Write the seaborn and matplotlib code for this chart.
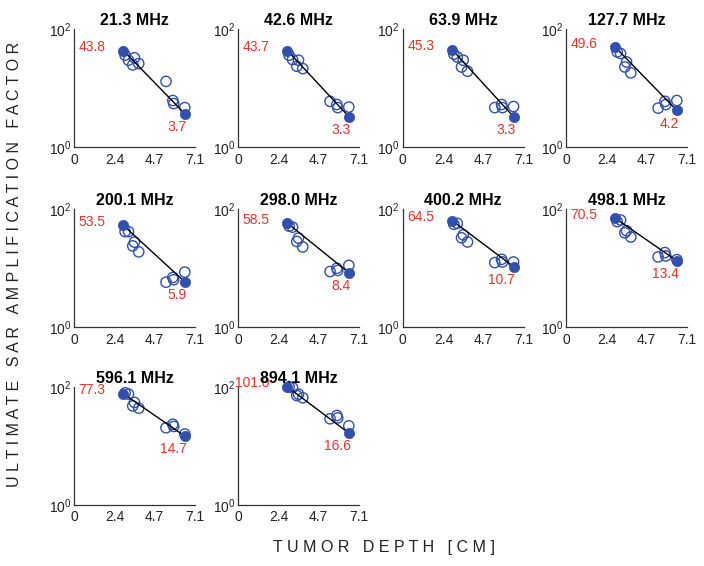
import matplotlib
matplotlib.use("Agg")
import matplotlib.pyplot as plt
import seaborn as sns
import pandas as pd

sns.set_theme(style="white")
plt.rcParams['font.family'] = ['Liberation Sans', 'DejaVu Sans']
plt.rcParams['mathtext.default'] = 'regular'

# data
freq_labels = ["21.3 MHz", "42.6 MHz", "63.9 MHz", "127.7 MHz", "200.1 MHz",
               "298.0 MHz", "400.2 MHz", "498.1 MHz", "596.1 MHz", "894.1 MHz"]
depth_min = 2.9
depth_max = 6.5
amp_min = [43.8, 43.7, 45.3, 49.6, 53.5, 58.5, 64.5, 70.5, 77.3, 101.0]
amp_max = [3.7, 3.3, 3.3, 4.2, 5.9, 8.4, 10.7, 13.4, 14.7, 16.6]
depth_open = [3.0, 3.2, 3.55, 3.45, 3.8, 5.4, 5.8, 5.85, 6.5]
amp_open = [
    [36.5, 30, 33, 25, 26.3, 13.1, 6.2, 5.5, 4.7],
    [36.5, 30.8, 30, 23.7, 21.6, 6.0, 5.3, 4.7, 4.8],
    [38, 34, 30, 23, 19.5, 4.7, 5.3, 4.7, 4.9],
    [41.5, 39, 28, 23, 18.3, 4.6, 6.0, 5.3, 6.2],
    [42, 42, 27.8, 24, 19, 5.8, 7.0, 6.4, 8.6],
    [52, 50, 32.6, 28.5, 23, 8.8, 10, 9.2, 11.2],
    [56, 58, 37, 33, 28, 12.5, 14.2, 12.8, 12.8],
    [62, 66, 43.5, 40, 34, 15.6, 18.5, 16.2, 14],
    [80, 76, 55, 48, 44, 20.4, 23.4, 21.5, 16],
    [101, 98, 76, 72, 66, 29, 33, 30, 22],
]
x_ticks = [0, 2.4, 4.7, 7.1]
x_ticklabels = ["0", "2.4", "4.7", "7.1"]

blue = "#3150ad"
red = "#e8332c"


def spaced(text):
    # letter-spaced caps like the original figure
    return "   ".join(" ".join(word) for word in text.split(" "))


fig = plt.figure(figsize=(7.04, 5.66), dpi=100)
lefts = [0.105, 0.338, 0.572, 0.804]
bottoms = [0.740, 0.422, 0.108]
w, h = 0.172, 0.208

for i, label in enumerate(freq_labels):
    r, c = divmod(i, 4)
    ax = fig.add_axes([lefts[c], bottoms[r], w, h])
    ends = pd.DataFrame({"depth": [depth_min, depth_max], "amp": [amp_min[i], amp_max[i]]})
    opens = pd.DataFrame({"depth": depth_open, "amp": amp_open[i]})

    sns.lineplot(data=ends, x="depth", y="amp", color="black", linewidth=1, ax=ax)
    sns.scatterplot(data=opens, x="depth", y="amp", ax=ax, s=55,
                    facecolor="none", edgecolor=blue, linewidth=1.0, clip_on=False)
    sns.scatterplot(data=ends, x="depth", y="amp", ax=ax, s=55,
                    color=blue, edgecolor=blue, linewidth=0.5, clip_on=False, zorder=5)

    ax.text(1.85, amp_min[i] * 1.15, f"{amp_min[i]:.1f}", color=red, fontsize=10,
            ha="right", va="center")
    ax.text(6.6, amp_max[i] * 0.6, f"{amp_max[i]:.1f}", color=red, fontsize=10,
            ha="right", va="center")

    ax.set_yscale("log")
    ax.set_xlim(0, 7.1)
    ax.set_ylim(1, 100)
    ax.set_xticks(x_ticks)
    ax.set_xticklabels(x_ticklabels)
    ax.set_yticks([1, 100])
    ax.set_yticklabels(["$10^0$", "$10^2$"])
    ax.minorticks_off()
    ax.tick_params(direction="in", length=3, width=0.8, labelsize=10,
                   colors="#333333", labelcolor="#222222", pad=4)
    ax.tick_params(axis="y", pad=2)
    ax.set_xlabel("")
    ax.set_ylabel("")
    sns.despine(ax=ax)
    for s in ["left", "bottom"]:
        ax.spines[s].set_color("#333333")
        ax.spines[s].set_linewidth(0.9)
    ax.set_title(label, fontsize=11.5, fontweight="bold", color="black", pad=3)

fig.text(0.021, 0.532, spaced("ULTIMATE SAR AMPLIFICATION FACTOR"),
         rotation=90, ha="center", va="center", fontsize=11.5, color="#222222")
fig.text(0.546, 0.032, spaced("TUMOR DEPTH [CM]"),
         ha="center", va="center", fontsize=11.5, color="#222222")

plt.savefig("out.png", dpi=100)
plt.close()
